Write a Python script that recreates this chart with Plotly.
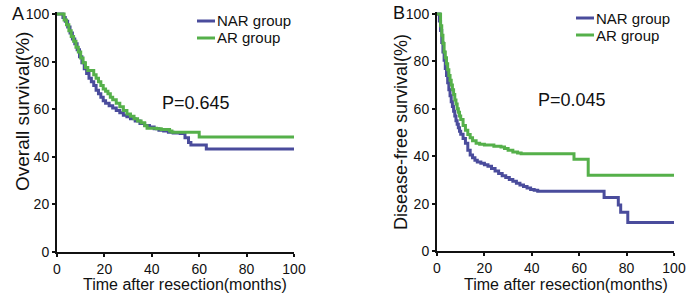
import plotly.graph_objects as go

# ---------------- data ----------------
group_names = ["NAR group", "AR group"]
p_values = ["P=0.645", "P=0.045"]
panel_labels = ["A", "B"]
x_title = "Time after resection(months)"
y_titles = ["Overall survival(%)", "Disease-free survival(%)"]
x_ticks = [0, 20, 40, 60, 80, 100]
y_ticks = [0, 20, 40, 60, 80, 100]

# Panel A: overall survival
a_nar_t = [0, 2.5, 3.5, 4.5, 5.5, 6.5, 7.5, 8.5, 9.5, 10.5, 11.5, 12.5, 13.5, 14.5, 15.5,
           16.5, 17.5, 18.5, 19.5, 20.5, 22, 23.5, 25, 26.5, 28, 29.5, 31, 33, 35, 37, 39,
           41, 43, 45, 47, 49, 52, 54, 55.5, 56.5, 63, 100]
a_nar_s = [100, 98.5, 97, 94.5, 92, 89.5, 87.5, 85, 82, 79.5, 77, 75, 73, 71.5, 70,
           68, 66.5, 65, 63.5, 62.5, 61.5, 60.5, 59.5, 58.5, 57.5, 56.8, 56, 55, 54, 53.2, 52.5,
           51.8, 51.2, 50.8, 50.3, 50, 49.8, 48, 46, 45, 43.3, 43.3]

a_ar_t = [0, 3, 4, 5, 6, 7, 8, 9, 10, 11, 12, 13, 15.5, 16.5, 17.5, 18.5, 19.5, 20.5,
          21.5, 22.5, 23.5, 25, 26.5, 28, 29.5, 31, 32.5, 34, 35.5, 37, 38, 42, 44, 47.5,
          48.5, 60, 100]
a_ar_s = [100, 97.5, 95.5, 93, 90.5, 88.5, 86, 84, 81.5, 79.5, 77.5, 76.3, 74.5, 73, 71.5,
          70, 68.5, 67.5, 66.5, 65, 64, 62.5, 61, 59.5, 58, 57, 56, 55, 54.3, 53, 52, 51.8,
          51.5, 50.8, 50.3, 48.3, 48.3]

# Panel B: disease-free survival
b_nar_t = [0, 1, 1.5, 2, 2.5, 3, 3.5, 4, 4.5, 5, 5.5, 6, 6.5, 7, 7.5, 8, 8.5, 9, 9.5, 10,
           11, 12, 13, 14, 15, 16, 17, 18.5, 20, 21.5, 23, 24.5, 26, 27.5, 29, 30.5, 32,
           33.5, 35, 36.5, 38, 39.5, 41, 42.5, 44, 70.5, 76.5, 77.5, 80.5, 100]
b_nar_s = [100, 97, 93, 88, 84, 80.5, 77, 74, 71, 68, 65.5, 63, 61, 59, 57, 55, 53.5, 52,
           50.5, 49.3, 47.5, 45.5, 42.5, 40.5, 39.3, 38.3, 37.6, 37, 36.4, 35.8, 34.8, 33.8,
           32.7, 31.8, 31, 30.2, 29.4, 28.6, 27.8, 27.2, 26.6, 26, 25.6, 25.2, 25.2, 22.6,
           19.4, 16.3, 12, 12]

b_ar_t = [0, 1.5, 2, 2.5, 3, 3.5, 4, 4.5, 5, 5.5, 6, 6.5, 7, 7.5, 8, 8.5, 9, 9.5, 10, 11,
          12, 13, 14, 15, 16.5, 18, 20, 24, 27, 28.5, 30, 32, 34, 35.5, 57.8, 63.8, 100]
b_ar_s = [100, 95, 91, 87.5, 84, 81.5, 79, 76.5, 74, 72, 70, 68, 66, 63.7, 62, 60, 58.5,
          57, 55.5, 53, 51, 49.2, 47.8, 46.5, 45.5, 45, 44.7, 44.2, 43.9, 43.2, 42.5, 41.8,
          41.3, 41, 38.7, 32, 32]

# ---------------- styling ----------------
BLUE = "#4a4c9c"
GREEN = "#55b04a"
FONT = "Arial, Liberation Sans, Helvetica, sans-serif"
TXT = "#111"
W, H = 691, 295

fig = go.Figure()

series = [
    ("x", "y", a_nar_t, a_nar_s, BLUE),
    ("x", "y", a_ar_t, a_ar_s, GREEN),
    ("x2", "y2", b_nar_t, b_nar_s, BLUE),
    ("x2", "y2", b_ar_t, b_ar_s, GREEN),
]
for xa, ya, t, s, c in series:
    fig.add_trace(go.Scatter(x=t, y=s, xaxis=xa, yaxis=ya, mode="lines",
                             line=dict(color=c, width=3, shape="hv"),
                             showlegend=False, hoverinfo="skip"))

def px_x(p):
    return p / W

def px_y(p):
    return 1 - p / H

# axis domains (pixel positions measured on reference)
xa_dom = [px_x(57), px_x(294)]
xb_dom = [px_x(437), px_x(674)]
ya_dom = [px_y(252), px_y(12)]
yb_dom = [px_y(251), px_y(12)]
ymax = 100 * (252 - 12) / (252 - 14)

axis_common = dict(
    showgrid=False, zeroline=False, showline=True, linecolor=TXT, linewidth=2,
    ticks="outside", tickcolor=TXT, tickwidth=1.5, ticklen=3, automargin=False,
    tickfont=dict(family=FONT, size=14, color=TXT),
    tickvals=x_ticks,
)
yaxis_common = {**axis_common, "tickvals": y_ticks}

fig.update_layout(
    width=W, height=H, margin=dict(l=0, r=0, t=0, b=0),
    paper_bgcolor="white", plot_bgcolor="white",
    font=dict(family=FONT, color=TXT),
    xaxis=dict(domain=xa_dom, range=[0, 100], anchor="y", **axis_common),
    yaxis=dict(domain=ya_dom, range=[0, ymax], anchor="x", **yaxis_common),
    xaxis2=dict(domain=xb_dom, range=[0, 100], anchor="y2", **axis_common),
    yaxis2=dict(domain=yb_dom, range=[0, ymax], anchor="x2", **yaxis_common),
)

def note(text, x, y, size, angle=0, xanchor="center"):
    return dict(text=text, x=px_x(x), y=px_y(y), xref="paper", yref="paper",
                xanchor=xanchor, yanchor="middle", textangle=angle, showarrow=False,
                font=dict(size=size, family=FONT, color=TXT))

ann = [
    note(x_title, 185, 284, 16),
    note(x_title, 566, 284, 16),
    note(y_titles[0], 22, 112, 19, -90),
    note(y_titles[1], 401, 132, 18, -90),
    note(panel_labels[0], 18, 14, 18),
    note(panel_labels[1], 399, 13, 18),
    note(p_values[0], 196, 103, 18),
    note(p_values[1], 572, 100, 18),
]

# legends (text + sample line)
shapes = []
legend_pos = [(197, 21, 38), (576, 18, 35)]
for (lx, y1, y2) in legend_pos:
    for name, col, yy in [(group_names[0], BLUE, y1), (group_names[1], GREEN, y2)]:
        ann.append(note(name, lx + 18, yy, 15, xanchor="left"))
        shapes.append(dict(type="line", xref="paper", yref="paper",
                           x0=px_x(lx), x1=px_x(lx + 18), y0=px_y(yy), y1=px_y(yy),
                           line=dict(color=col, width=3)))

fig.update_layout(annotations=ann, shapes=shapes)
fig.write_html("out.html", config={"displayModeBar": False},
               post_script="document.body.style.margin='0';document.body.style.overflow='hidden';")
